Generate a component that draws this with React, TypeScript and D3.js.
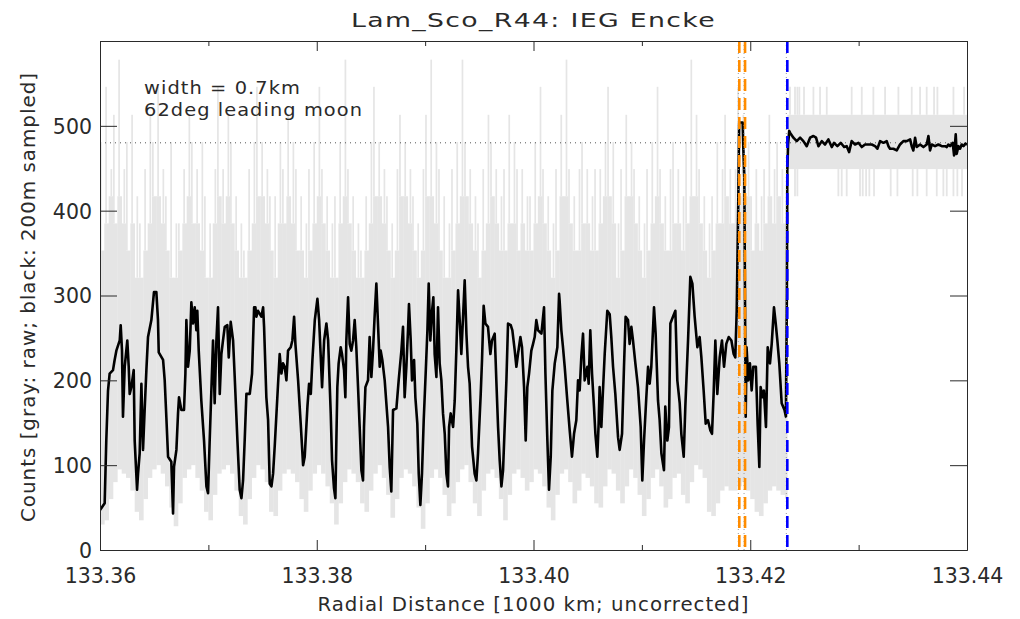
import * as d3 from 'd3';
import { useEffect, useRef } from 'react';

// black: 200 m sampled counts, [radius (1000 km), counts]
const blackTrace: [number, number][] = [
  [133.36, 47], [133.36043, 55], [133.36058, 129], [133.36074, 188], [133.36089, 208],
  [133.3612, 212], [133.36135, 224], [133.36151, 235], [133.36182, 247], [133.36191, 265],
  [133.36203, 235], [133.36212, 157], [133.36228, 216], [133.36252, 247], [133.36265, 216],
  [133.36274, 184], [133.36289, 192], [133.36311, 212], [133.3632, 129], [133.36342, 71],
  [133.36351, 90], [133.36366, 114], [133.36382, 196], [133.36397, 118], [133.36412, 165],
  [133.36428, 212], [133.36443, 251], [133.36474, 271], [133.36498, 304], [133.3652, 304],
  [133.36535, 271], [133.36542, 233], [133.36582, 224], [133.36597, 200], [133.36612, 157],
  [133.36628, 110], [133.36658, 104], [133.36674, 43], [133.36683, 98], [133.36705, 118],
  [133.3672, 161], [133.36729, 180], [133.36751, 165], [133.36775, 165], [133.36788, 208],
  [133.36797, 271], [133.36812, 216], [133.36828, 235], [133.36843, 292], [133.36858, 267],
  [133.36874, 286], [133.36889, 259], [133.36898, 282], [133.36911, 235], [133.36935, 176],
  [133.3696, 129], [133.36982, 75], [133.36997, 67], [133.37012, 129], [133.37043, 247],
  [133.37058, 173], [133.37074, 247], [133.37089, 286], [133.37105, 184], [133.3712, 231],
  [133.37135, 247], [133.37151, 263], [133.37175, 265], [133.37188, 227], [133.37206, 269],
  [133.37228, 247], [133.37243, 204], [133.37268, 129], [133.37289, 71], [133.37305, 61],
  [133.3732, 82], [133.37335, 129], [133.37351, 184], [133.37382, 184], [133.37403, 208],
  [133.37422, 286], [133.37434, 286], [133.37443, 275], [133.37458, 282], [133.37489, 275],
  [133.37505, 286], [133.37514, 263], [133.37535, 180], [133.37551, 153], [133.37566, 78],
  [133.37582, 75], [133.37597, 90], [133.37612, 122], [133.37643, 196], [133.37658, 231],
  [133.37674, 208], [133.37689, 220], [133.37705, 216], [133.3772, 200], [133.37735, 235],
  [133.3776, 239], [133.37775, 247], [133.37791, 275], [133.37803, 243], [133.37828, 200],
  [133.37852, 149], [133.37874, 100], [133.37889, 110], [133.37914, 169], [133.37929, 196],
  [133.37945, 184], [133.3796, 224], [133.37982, 271], [133.38006, 296], [133.38022, 271],
  [133.38037, 227], [133.38049, 192], [133.38068, 247], [133.38089, 267], [133.38105, 247],
  [133.38129, 161], [133.38141, 106], [133.38159, 73], [133.38172, 61], [133.38181, 129],
  [133.3819, 192], [133.38202, 220], [133.38221, 239], [133.38233, 231], [133.38252, 212],
  [133.38264, 180], [133.38273, 247], [133.38289, 298], [133.38304, 243], [133.38319, 235],
  [133.38335, 247], [133.3835, 271], [133.38365, 239], [133.38381, 192], [133.38396, 145],
  [133.38412, 94], [133.38427, 82], [133.38436, 145], [133.38449, 192], [133.38473, 200],
  [133.38488, 251], [133.38504, 204], [133.38519, 235], [133.38535, 278], [133.3855, 314],
  [133.38565, 267], [133.38581, 216], [133.3859, 235], [133.38605, 224], [133.38627, 200],
  [133.38658, 145], [133.38673, 98], [133.38688, 69], [133.38704, 165], [133.38735, 167],
  [133.38756, 200], [133.38781, 235], [133.38796, 263], [133.38811, 180], [133.38827, 216],
  [133.38842, 259], [133.38851, 290], [133.38867, 247], [133.38879, 200], [133.38898, 224],
  [133.3891, 180], [133.38928, 149], [133.38941, 90], [133.38956, 53], [133.38971, 90],
  [133.38987, 153], [133.39005, 208], [133.39021, 259], [133.39033, 314], [133.39048, 247],
  [133.39064, 282], [133.39076, 298], [133.39088, 231], [133.39104, 204], [133.39119, 286],
  [133.39134, 220], [133.3915, 200], [133.39165, 161], [133.39181, 137], [133.39196, 90],
  [133.39211, 75], [133.39221, 145], [133.39236, 161], [133.39258, 145], [133.39273, 176],
  [133.39288, 235], [133.39304, 306], [133.39319, 271], [133.39334, 231], [133.3935, 275],
  [133.39365, 318], [133.39381, 255], [133.39396, 216], [133.39411, 196], [133.39433, 122],
  [133.39457, 90], [133.39473, 82], [133.39488, 114], [133.39513, 184], [133.39525, 224],
  [133.3954, 288], [133.39556, 267], [133.3958, 263], [133.39602, 231], [133.39617, 247],
  [133.39642, 255], [133.39657, 200], [133.39673, 145], [133.39688, 106], [133.39704, 75],
  [133.39719, 94], [133.39734, 145], [133.3975, 200], [133.39765, 267], [133.3979, 265],
  [133.39805, 259], [133.39827, 235], [133.39842, 216], [133.39857, 231], [133.39879, 251],
  [133.39894, 239], [133.39913, 192], [133.39928, 129], [133.39943, 192], [133.39959, 208],
  [133.3998, 235], [133.39996, 243], [133.40011, 251], [133.40026, 271], [133.40042, 259],
  [133.40073, 255], [133.40097, 286], [133.4011, 208], [133.40128, 129], [133.40143, 71],
  [133.40159, 110], [133.40174, 188], [133.40196, 220], [133.4022, 239], [133.40236, 302],
  [133.40241, 294], [133.40257, 259], [133.40272, 239], [133.40288, 216], [133.40312, 176],
  [133.40334, 141], [133.40355, 110], [133.40374, 137], [133.40395, 153], [133.40411, 200],
  [133.40426, 188], [133.40441, 227], [133.40457, 255], [133.40472, 200], [133.40497, 216],
  [133.40509, 196], [133.40524, 259], [133.4054, 208], [133.40558, 169], [133.40571, 137],
  [133.40589, 110], [133.40601, 149], [133.4061, 192], [133.40626, 145], [133.40641, 188],
  [133.40657, 231], [133.40681, 282], [133.40703, 278], [133.40718, 251], [133.40734, 216],
  [133.40755, 184], [133.4078, 133], [133.40795, 118], [133.40817, 137], [133.40835, 216],
  [133.4085, 275], [133.40872, 271], [133.40887, 243], [133.40903, 263], [133.40918, 247],
  [133.4094, 220], [133.40964, 192], [133.40989, 145], [133.41004, 82], [133.4102, 129],
  [133.41041, 180], [133.41057, 216], [133.41072, 196], [133.41087, 216], [133.41112, 286],
  [133.41127, 255], [133.41149, 176], [133.41164, 153], [133.4118, 114], [133.41204, 94],
  [133.41216, 169], [133.41235, 129], [133.4125, 145], [133.41263, 267], [133.41287, 275],
  [133.41309, 282], [133.41327, 200], [133.41349, 173], [133.41364, 137], [133.41386, 110],
  [133.41401, 169], [133.41426, 247], [133.41447, 322], [133.41466, 314], [133.41487, 275],
  [133.41512, 239], [133.41533, 251], [133.41549, 227], [133.4157, 188], [133.41589, 149],
  [133.4161, 153], [133.41632, 141], [133.41647, 137], [133.41662, 184], [133.41678, 247],
  [133.41696, 184], [133.41718, 227], [133.41739, 247], [133.41758, 216], [133.41779, 243],
  [133.41801, 251], [133.41826, 247], [133.41847, 231], [133.41862, 227], [133.41875, 282],
  [133.4189, 416], [133.41898, 504], [133.4193, 504], [133.41936, 474], [133.41945, 439],
  [133.41958, 157], [133.41966, 239], [133.41982, 200], [133.41997, 220], [133.42013, 188],
  [133.42028, 216], [133.42052, 216], [133.42068, 149], [133.42084, 98], [133.42096, 192],
  [133.42114, 180], [133.42126, 188], [133.42145, 145], [133.42161, 239], [133.42182, 220],
  [133.42198, 243], [133.42219, 286], [133.42235, 267], [133.4225, 247], [133.42268, 220],
  [133.4229, 173], [133.42316, 165], [133.42329, 157], [133.42338, 302], [133.42342, 447],
  [133.42349, 478], [133.4236, 494], [133.42367, 492], [133.42398, 486], [133.42429, 482],
  [133.4246, 486], [133.4249, 482], [133.42521, 476], [133.42552, 486], [133.42583, 488],
  [133.42607, 486], [133.42629, 476], [133.4266, 482], [133.4269, 478], [133.42721, 484],
  [133.42752, 475], [133.42773, 480], [133.42804, 476], [133.42835, 480], [133.42866, 475],
  [133.4289, 476], [133.42912, 469], [133.42936, 482], [133.42967, 478], [133.42998, 480],
  [133.43029, 475], [133.43059, 478], [133.4309, 478], [133.43121, 478], [133.43152, 476],
  [133.43173, 473], [133.43198, 482], [133.43229, 480], [133.43259, 482], [133.43275, 476],
  [133.4329, 473], [133.43321, 473], [133.43352, 471], [133.43382, 478], [133.43413, 482],
  [133.43444, 482], [133.43475, 484], [133.4349, 476], [133.43505, 471], [133.43521, 486],
  [133.43536, 475], [133.43567, 478], [133.43598, 475], [133.43628, 478], [133.43644, 488],
  [133.43659, 471], [133.43675, 478], [133.43705, 476], [133.43736, 478], [133.43767, 476],
  [133.43798, 476], [133.43813, 475], [133.43828, 478], [133.43844, 476], [133.43868, 480],
  [133.43881, 465], [133.43896, 490], [133.43905, 467], [133.43921, 476], [133.43936, 473],
  [133.43951, 478], [133.43967, 476], [133.43985, 479], [133.44, 478],
];

// gray: raw counts in 0.4 km bins (lowest sample, top of the dense part, highest sample)
const rawStart = 133.36;
const rawStep = 0.0004;
const rawLow = [
  30, 35, 60, 80, 95, 90, 85, 70, 45, 35, 60, 85, 95, 100, 90, 75, 50, 28, 55, 85,
  95, 100, 85, 70, 45, 35, 65, 90, 95, 100, 90, 70, 40, 30, 60, 85, 100, 95, 80, 45,
  40, 70, 90, 95, 90, 80, 60, 45, 70, 90, 100, 90, 75, 55, 30, 55, 80, 95, 90, 80,
  55, 45, 70, 90, 100, 85, 65, 38, 60, 85, 95, 90, 75, 50, 25, 55, 85, 95, 85, 65,
  40, 55, 80, 95, 100, 80, 55, 40, 70, 90, 95, 85, 60, 35, 65, 90, 95, 85, 70, 80,
  95, 90, 75, 50, 35, 65, 90, 95, 80, 55, 70, 90, 85, 75, 55, 50, 75, 95, 90, 70,
  55, 75, 95, 85, 65, 40, 60, 85, 95, 75, 50, 60, 85, 90, 65, 55, 80, 100, 95, 85,
  45, 40, 55, 70, 75, 70, 70, 75, 80, 70, 60, 45, 40, 55, 70, 75, 70, 65, 60,
];
const rawDense = [
  353, 385, 417, 385, 417, 385, 353, 385, 321, 321, 353, 385, 417, 417, 385, 353, 321, 321, 353, 385,
  417, 385, 385, 353, 321, 321, 385, 417, 385, 417, 385, 353, 321, 321, 353, 385, 417, 417, 385, 353,
  321, 385, 385, 417, 385, 353, 353, 321, 353, 385, 417, 385, 353, 321, 321, 385, 417, 385, 353, 321,
  321, 353, 385, 417, 417, 385, 353, 321, 353, 417, 417, 385, 353, 321, 353, 417, 417, 385, 353, 321,
  321, 353, 385, 417, 417, 385, 353, 321, 353, 385, 417, 385, 353, 353, 385, 385, 353, 385, 353, 353,
  385, 417, 385, 353, 321, 353, 417, 417, 385, 353, 353, 385, 385, 353, 353, 385, 417, 417, 385, 321,
  353, 417, 417, 385, 353, 321, 353, 385, 417, 385, 353, 353, 385, 385, 353, 385, 417, 417, 385, 353,
  321, 353, 385, 385, 417, 385, 385, 417, 449, 417, 353, 385, 353, 385, 417, 385, 417, 385, 353,
];
const rawHigh = [
  481, 546, 449, 513, 578, 449, 481, 513, 417, 385, 449, 513, 481, 546, 449, 417, 481, 385, 385, 449,
  513, 481, 449, 481, 417, 385, 449, 546, 449, 513, 481, 417, 385, 353, 449, 481, 546, 481, 449, 417,
  417, 481, 449, 513, 481, 449, 417, 385, 449, 481, 546, 449, 417, 385, 417, 481, 578, 449, 417, 385,
  353, 417, 481, 546, 481, 449, 417, 385, 449, 513, 481, 449, 417, 385, 449, 513, 578, 481, 449, 417,
  385, 449, 481, 578, 481, 449, 417, 385, 449, 513, 481, 449, 417, 449, 513, 481, 449, 449, 417, 417,
  481, 546, 449, 417, 385, 449, 513, 578, 449, 417, 449, 481, 449, 417, 449, 449, 481, 546, 481, 385,
  449, 513, 481, 449, 417, 385, 449, 481, 546, 449, 417, 449, 481, 449, 417, 481, 578, 513, 449, 417,
  385, 417, 481, 449, 513, 449, 449, 546, 513, 481, 417, 449, 417, 449, 513, 449, 481, 449, 417,
];

// gray beyond the edge: raw counts sit in a band with single-sample excursions
const bandStart = 133.42342;
const bandLow = 449;
const bandHigh = 513;
const spikeTop = 546;
const spikeBottom = 417;
const spikesUp = [
  133.42367, 133.42413, 133.42435, 133.42453, 133.42496, 133.42583, 133.42644, 133.42706,
  133.42936, 133.43029, 133.43136, 133.43244, 133.43367, 133.4349, 133.43567, 133.43628,
  133.43696, 133.43727, 133.43875, 133.43973,
];
const spikesDown = [
  133.42413, 133.42435, 133.42813, 133.42844, 133.4289, 133.43013, 133.43038, 133.43069,
  133.43099, 133.43142, 133.43296, 133.43358, 133.43499, 133.43542, 133.43628, 133.43721,
  133.43782, 133.43813, 133.43875, 133.43911, 133.43954,
];

const refLevel = 480;
const orangeEdges = [133.41899, 133.41952];
const blueEdge = 133.42342;

const xTicks = [133.36, 133.38, 133.4, 133.42, 133.44];
const xMinorTicks = [133.37, 133.39, 133.41, 133.43];
const yTicks = [0, 100, 200, 300, 400, 500];

const dims = {
  width: 1020,
  height: 619,
  left: 100,
  right: 967,
  top: 41,
  bottom: 550,
};

const font = '"DejaVu Sans", sans-serif';
const ink = '#2a2a2a';

export default function App() {
  const svgRef = useRef<SVGSVGElement>(null);

  useEffect(() => {
    document.body.style.margin = '0';
    const svg = d3.select(svgRef.current);
    svg.selectAll('*').remove();

    const x = d3.scaleLinear().domain([133.36, 133.44]).range([dims.left, dims.right]);
    const y = d3.scaleLinear().domain([0, 600]).range([dims.bottom, dims.top]);

    svg.append('rect').attr('width', dims.width).attr('height', dims.height).attr('fill', '#fff');

    svg
      .append('clipPath')
      .attr('id', 'plot-clip')
      .append('rect')
      .attr('x', dims.left)
      .attr('y', dims.top)
      .attr('width', dims.right - dims.left)
      .attr('height', dims.bottom - dims.top);

    const plot = svg.append('g').attr('clip-path', 'url(#plot-clip)');
    const grayFill = '#e5e5e5';
    const binX = (i: number) => x(rawStart + i * rawStep);

    // raw data, dense part
    plot
      .append('g')
      .selectAll('rect')
      .data(rawDense)
      .join('rect')
      .attr('x', (_, i) => binX(i))
      .attr('width', (_, i) => Math.min(binX(i + 1), x(bandStart)) - binX(i) + 0.3)
      .attr('y', (d) => y(d))
      .attr('height', (d, i) => y(rawLow[i]) - y(d))
      .attr('fill', grayFill);

    // raw data, isolated high samples
    plot
      .append('g')
      .selectAll('rect')
      .data(rawHigh)
      .join('rect')
      .attr('x', (_, i) => binX(i) + (i % 3) * 0.9)
      .attr('width', 1.7)
      .attr('y', (d) => y(d))
      .attr('height', (d, i) => Math.max(0, y(rawDense[i]) - y(d)))
      .attr('fill', grayFill);

    // raw band past the edge
    plot
      .append('rect')
      .attr('x', x(bandStart))
      .attr('width', x(133.44) - x(bandStart))
      .attr('y', y(bandHigh))
      .attr('height', y(bandLow) - y(bandHigh))
      .attr('fill', grayFill);

    plot
      .append('g')
      .selectAll('line')
      .data(spikesUp)
      .join('line')
      .attr('x1', (d) => x(d))
      .attr('x2', (d) => x(d))
      .attr('y1', y(bandHigh))
      .attr('y2', y(spikeTop))
      .attr('stroke', grayFill)
      .attr('stroke-width', 1.8);

    plot
      .append('g')
      .selectAll('line')
      .data(spikesDown)
      .join('line')
      .attr('x1', (d) => x(d))
      .attr('x2', (d) => x(d))
      .attr('y1', y(bandLow))
      .attr('y2', y(spikeBottom))
      .attr('stroke', grayFill)
      .attr('stroke-width', 1.8);

    // reference level
    plot
      .append('line')
      .attr('x1', dims.left)
      .attr('x2', dims.right)
      .attr('y1', y(refLevel))
      .attr('y2', y(refLevel))
      .attr('stroke', '#555')
      .attr('stroke-width', 1)
      .attr('stroke-dasharray', '1,4');

    // 200 m sampled profile
    const line = d3
      .line<[number, number]>()
      .x((d) => x(d[0]))
      .y((d) => y(d[1]));

    plot
      .append('path')
      .datum(blackTrace)
      .attr('d', line)
      .attr('fill', 'none')
      .attr('stroke', '#000')
      .attr('stroke-width', 2.6)
      .attr('stroke-linejoin', 'round');

    // edge markers
    const edges = [
      ...orangeEdges.map((r) => ({ r, color: '#ff8c00' })),
      { r: blueEdge, color: '#0000ff' },
    ];
    const edgeG = svg.append('g');
    edgeG
      .selectAll('line.dot')
      .data(edges)
      .join('line')
      .attr('class', 'dot')
      .attr('x1', (d) => x(d.r) - 1)
      .attr('x2', (d) => x(d.r) - 1)
      .attr('y1', dims.top)
      .attr('y2', dims.bottom)
      .attr('stroke', '#999')
      .attr('stroke-width', 1)
      .attr('stroke-dasharray', '1,3');
    edgeG
      .selectAll('line.dash')
      .data(edges)
      .join('line')
      .attr('class', 'dash')
      .attr('x1', (d) => x(d.r))
      .attr('x2', (d) => x(d.r))
      .attr('y1', dims.top)
      .attr('y2', dims.bottom)
      .attr('stroke', (d) => d.color)
      .attr('stroke-width', 2.6)
      .attr('stroke-dasharray', '12,7');

    // axes
    const axisStyle = (g: d3.Selection<SVGGElement, unknown, null, undefined>) => {
      g.selectAll('path.domain').attr('stroke', ink);
      g.selectAll('.tick line').attr('stroke', ink);
      g.selectAll('.tick text')
        .attr('fill', ink)
        .style('font-family', font)
        .style('font-size', '20.5px');
    };

    svg
      .append('g')
      .attr('transform', `translate(0,${dims.bottom})`)
      .call(d3.axisBottom(x).tickValues(xTicks).tickSize(-10).tickSizeOuter(0).tickPadding(18).tickFormat(d3.format('.2f')))
      .call(axisStyle);
    svg
      .append('g')
      .attr('transform', `translate(0,${dims.bottom})`)
      .call(d3.axisBottom(x).tickValues(xMinorTicks).tickSize(-5).tickSizeOuter(0).tickFormat(() => ''))
      .call(axisStyle);
    svg
      .append('g')
      .attr('transform', `translate(0,${dims.top})`)
      .call(d3.axisTop(x).tickValues(xTicks).tickSize(-10).tickSizeOuter(0).tickFormat(() => ''))
      .call(axisStyle);
    svg
      .append('g')
      .attr('transform', `translate(0,${dims.top})`)
      .call(d3.axisTop(x).tickValues(xMinorTicks).tickSize(-5).tickSizeOuter(0).tickFormat(() => ''))
      .call(axisStyle);
    svg
      .append('g')
      .attr('transform', `translate(${dims.left},0)`)
      .call(d3.axisLeft(y).tickValues(yTicks).tickSize(-17).tickSizeOuter(0).tickPadding(8))
      .call(axisStyle)
      .selectAll('.tick text')
      .attr('dy', '0.36em');
    svg
      .append('g')
      .attr('transform', `translate(${dims.right},0)`)
      .call(d3.axisRight(y).tickValues(yTicks).tickSize(-17).tickSizeOuter(0).tickFormat(() => ''))
      .call(axisStyle);

    // titles
    const label = (t: d3.Selection<SVGTextElement, unknown, null, undefined>, size: number, len: number) =>
      t
        .attr('fill', ink)
        .attr('textLength', len)
        .attr('lengthAdjust', 'spacingAndGlyphs')
        .style('letter-spacing', '1px')
        .style('font-family', font)
        .style('font-size', size + 'px');

    svg
      .append('text')
      .attr('x', (dims.left + dims.right) / 2)
      .attr('y', 27)
      .attr('text-anchor', 'middle')
      .call(label, 20, 365)
      .text('Lam_Sco_R44: IEG Encke');

    svg
      .append('text')
      .attr('x', (dims.left + dims.right) / 2)
      .attr('y', 611)
      .attr('text-anchor', 'middle')
      .call(label, 20, 432)
      .text('Radial Distance [1000 km; uncorrected]');

    svg
      .append('text')
      .attr('transform', 'translate(35,297) rotate(-90)')
      .attr('text-anchor', 'middle')
      .call(label, 20, 450)
      .text('Counts [gray: raw; black: 200m sampled]');

    svg
      .append('text')
      .attr('x', 144)
      .attr('y', 94)
      .call(label, 18, 157)
      .text('width = 0.7km');

    svg
      .append('text')
      .attr('x', 144)
      .attr('y', 116)
      .call(label, 18, 219)
      .text('62deg leading moon');
  }, []);

  return (
    <div>
      <svg ref={svgRef} width={dims.width} height={dims.height} style={{ display: 'block' }}></svg>
    </div>
  );
}
